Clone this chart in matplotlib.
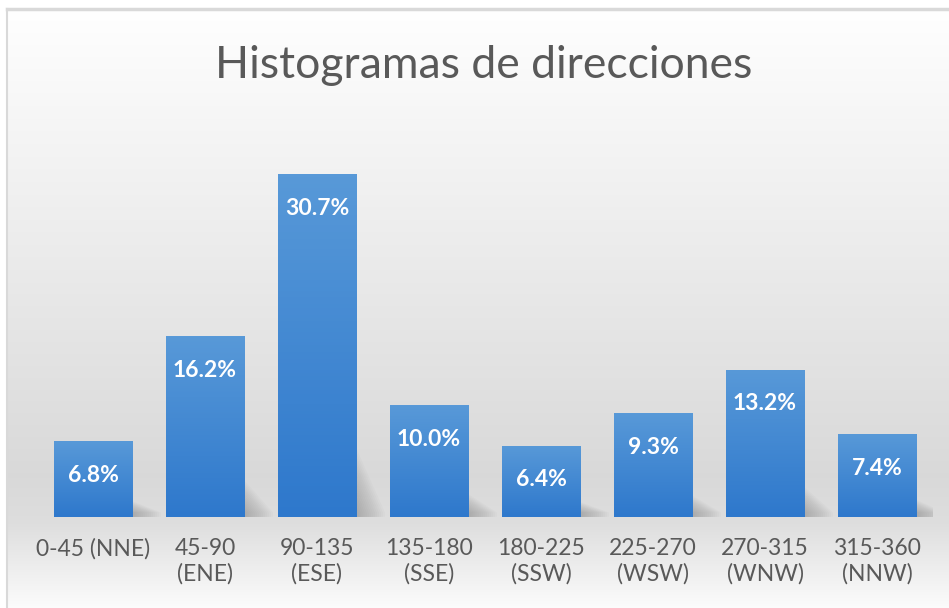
import matplotlib.pyplot as plt
import matplotlib.colors as mcolors
from matplotlib.patches import Polygon
import numpy as np

# direction bins and share of observations (%)
categories = ["0-45 (NNE)", "45-90\n(ENE)", "90-135\n(ESE)", "135-180\n(SSE)",
              "180-225\n(SSW)", "225-270\n(WSW)", "270-315\n(WNW)", "315-360\n(NNW)"]
percentages = [6.8, 16.2, 30.7, 10.0, 6.4, 9.3, 13.2, 7.4]
title = "Histogramas de direcciones"

fig = plt.figure(figsize=(9.49, 6.08), dpi=100)

# chart-area background: white on top, grey near the baseline, lighter below
bg = fig.add_axes([0, 0, 1, 1], zorder=0)
rows = np.linspace(0, 1, 300)
stops_y = [0.0, 0.10, 0.45, 0.78, 0.86, 1.0]
stops_v = [1.0, 0.98, 0.915, 0.85, 0.87, 0.985]
vals = np.interp(rows, stops_y, stops_v)
grad = np.repeat(vals[:, None, None], 3, axis=2)
bg.imshow(grad, aspect="auto", extent=[7 / 949, 1, 0, 1 - 9 / 608], origin="upper")
bg.plot([7 / 949, 7 / 949], [0, 1 - 9 / 608], color="#d9d9d9", lw=1.5)
bg.plot([7 / 949, 1], [1 - 9 / 608, 1 - 9 / 608], color="#d9d9d9", lw=2.5)
bg.set_xlim(0, 1)
bg.set_ylim(0, 1)
bg.axis("off")

ax = fig.add_axes([37 / 949, 91 / 608, 896 / 949, 391 / 608], zorder=1)
ax.patch.set_alpha(0)
x = np.arange(len(categories))
bars = ax.bar(x, percentages, width=0.705, color="#4a8ad4", zorder=3)

# soft cast shadow to the right of each bar
for b, v in zip(bars, percentages):
    x1 = b.get_x() + b.get_width()
    for k in range(14):
        s = 0.02 + 0.018 * k
        h = v * (0.08 + 0.012 * k)
        shadow = Polygon([(x1 - 0.05, 0), (x1 - 0.05, h),
                          (x1 + s, 0.4), (x1 + s, 0)],
                         closed=True, color="#5a5a5a", alpha=0.028, lw=0, zorder=2)
        ax.add_patch(shadow)

# vertical gradient fill of the bars
top_c = np.array(mcolors.to_rgb("#5899d8"))
bot_c = np.array(mcolors.to_rgb("#2e78cc"))
t = np.linspace(0, 1, 100)[:, None]
bar_grad = (top_c * (1 - t) + bot_c * t)[:, None, :]
for b in bars:
    im = ax.imshow(bar_grad, aspect="auto", zorder=4, origin="upper",
                   extent=[b.get_x(), b.get_x() + b.get_width(), 0, b.get_height()])
    im.set_clip_path(b)

for xi, v in zip(x, percentages):
    ax.annotate(f"{v:.1f}%", (xi, v), xytext=(0, -24.5), textcoords="offset points",
                ha="center", va="center", color="white", fontsize=16.5,
                fontweight="bold", family="Lato", zorder=5)

ax.set_xlim(-0.5, len(categories) - 0.5)
ax.set_ylim(0, 35)
ax.set_xticks(x)
ax.set_xticklabels(categories, fontsize=16.5, color="#595959", family="Lato",
                   linespacing=1.22, va="top")
ax.tick_params(axis="x", length=0, pad=15)
ax.set_yticks([])
for sp in ax.spines.values():
    sp.set_visible(False)

fig.text(484 / 949, 1 - 65 / 608, title, ha="center", va="center",
         fontsize=32, color="#595959", family="Lato")

fig.savefig("out.png", dpi=100)
